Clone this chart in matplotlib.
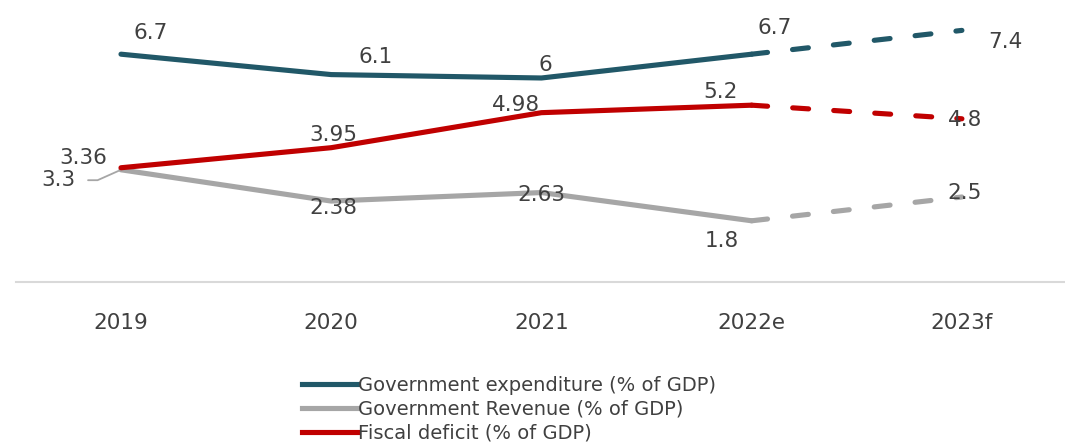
import matplotlib.pyplot as plt
from matplotlib.lines import Line2D

years = ["2019", "2020", "2021", "2022e", "2023f"]
expenditure = [6.7, 6.1, 6.0, 6.7, 7.4]
revenue = [3.3, 2.38, 2.63, 1.8, 2.5]
deficit = [3.36, 3.95, 4.98, 5.2, 4.8]

series_names = [
    "Government expenditure (% of GDP)",
    "Government Revenue (% of GDP)",
    "Fiscal deficit (% of GDP)",
]
colors = ["#215868", "#a6a6a6", "#c00000"]
text_color = "#404040"

plt.rcParams["font.family"] = ["DejaVu Sans"]

fig = plt.figure(figsize=(10.65, 4.44), dpi=100)
ax = fig.add_axes([0.0149, 0.3649, 0.987, 0.6126])

x = list(range(len(years)))
lw = 3.7
for vals, c in zip([expenditure, revenue, deficit], colors):
    # actual / estimate part solid, forecast part dashed
    ax.plot(x[:4], vals[:4], color=c, lw=lw, solid_capstyle="round",
            solid_joinstyle="round")
    ax.plot(x[3:], vals[3:], color=c, lw=lw, ls=(0, (3.1, 4.9)),
            dash_capstyle="round")

fs = 15.5
# label offsets in points (dx, dy)
exp_off = [(21.6, 15), (31.7, 12.7), (2.9, 9.4), (16.6, 18.7), (31.7, -8.6)]
rev_off = [(-45, -7.5), (1.5, -5), (0, -2), (-21.6, -14.4), (2, 3)]
def_off = [(-27.4, 7), (1.5, 9), (-18, 5.5), (-22.3, 9.4), (2, -1)]

for vals, offs in [(expenditure, exp_off), (revenue, rev_off), (deficit, def_off)]:
    for xi, v, (dx, dy) in zip(x, vals, offs):
        label = f"{v:g}"
        kw = dict(textcoords="offset points", ha="center", va="center",
                  fontsize=fs, color=text_color)
        if vals is revenue and xi == 0:
            # leader line from the label back to its point
            kw["arrowprops"] = dict(arrowstyle="-", color="#a6a6a6", lw=1.3,
                                    shrinkA=7, shrinkB=2,
                                    connectionstyle="angle,angleA=0,angleB=24,rad=0")
        ax.annotate(label, xy=(xi, v), xytext=(dx, dy), **kw)

ax.set_xlim(-0.5, 4.5)
ax.set_ylim(0, 8)
ax.set_yticks([])
ax.set_xticks(x)
ax.set_xticklabels(years, fontsize=fs, color=text_color)
ax.tick_params(axis="x", length=0, pad=22)
for s in ["top", "right", "left"]:
    ax.spines[s].set_visible(False)
ax.spines["bottom"].set_color("#d9d9d9")
ax.spines["bottom"].set_linewidth(1.5)
ax.patch.set_alpha(0)

handles = [Line2D([], [], color=c, lw=lw) for c in colors]
fig.legend(handles, series_names, loc="upper left",
           bbox_to_anchor=(0.2766, 0.171), bbox_transform=fig.transFigure,
           frameon=False, fontsize=14, handlelength=2.8, handletextpad=0.05,
           labelspacing=0.26, borderaxespad=0, labelcolor=text_color)

fig.savefig("out.png", dpi=100)
